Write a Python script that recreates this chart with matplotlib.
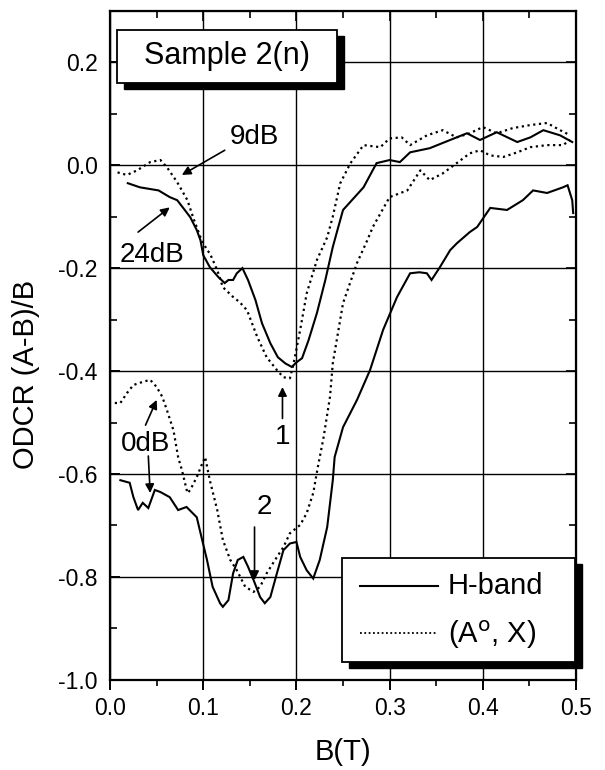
import numpy as np
import matplotlib
matplotlib.use("Agg")
import matplotlib.pyplot as plt
from matplotlib.patches import Rectangle
from matplotlib.lines import Line2D

plt.rcParams['font.family'] = ['Liberation Sans', 'DejaVu Sans']
plt.rcParams['axes.unicode_minus'] = False

# ---- data: ODCR signal vs magnetic field ----
# H-band, 24 dB attenuation
h24_x = [0.019, 0.032, 0.052, 0.064, 0.072, 0.078, 0.086, 0.093, 0.097, 0.100,
         0.107, 0.116, 0.123, 0.127, 0.132, 0.136, 0.142, 0.148, 0.156, 0.163,
         0.172, 0.180, 0.188, 0.195, 0.200, 0.206, 0.213, 0.222, 0.231, 0.239,
         0.244, 0.250, 0.272, 0.286, 0.300, 0.311, 0.322, 0.343, 0.365, 0.383,
         0.397, 0.415, 0.437, 0.451, 0.465, 0.483, 0.496]
h24_y = [-0.035, -0.043, -0.049, -0.062, -0.068, -0.082, -0.101, -0.126, -0.146, -0.175,
         -0.198, -0.217, -0.229, -0.223, -0.223, -0.210, -0.200, -0.223, -0.262, -0.307,
         -0.346, -0.373, -0.385, -0.392, -0.383, -0.375, -0.340, -0.287, -0.223, -0.159,
         -0.126, -0.087, -0.043, 0.004, 0.010, 0.006, 0.025, 0.033, 0.049, 0.062,
         0.049, 0.064, 0.045, 0.054, 0.068, 0.058, 0.045]

# (A0, X), 9 dB attenuation
a9_x = [0.008, 0.018, 0.029, 0.043, 0.054, 0.061, 0.072, 0.083, 0.089, 0.097,
        0.104, 0.107, 0.115, 0.121, 0.132, 0.139, 0.147, 0.158, 0.168, 0.179,
        0.186, 0.193, 0.197, 0.204, 0.211, 0.222, 0.233, 0.239, 0.247, 0.258,
        0.272, 0.290, 0.300, 0.313, 0.322, 0.340, 0.357, 0.372, 0.386, 0.400,
        0.415, 0.432, 0.451, 0.469, 0.483, 0.494]
a9_y = [-0.014, -0.019, -0.010, 0.006, 0.010, -0.004, -0.033, -0.068, -0.101, -0.140,
        -0.165, -0.171, -0.204, -0.237, -0.256, -0.266, -0.282, -0.334, -0.373, -0.398,
        -0.412, -0.414, -0.385, -0.320, -0.249, -0.184, -0.140, -0.100, -0.035, 0.004,
        0.039, 0.035, 0.052, 0.054, 0.039, 0.058, 0.068, 0.054, 0.062, 0.074,
        0.062, 0.072, 0.078, 0.082, 0.068, 0.058]

# H-band, 0 dB attenuation
h0_x = [0.011, 0.021, 0.025, 0.030, 0.035, 0.041, 0.048, 0.054, 0.064, 0.073,
        0.082, 0.093, 0.098, 0.104, 0.110, 0.118, 0.121, 0.127, 0.132, 0.137,
        0.143, 0.148, 0.154, 0.161, 0.166, 0.172, 0.179, 0.186, 0.193, 0.200,
        0.204, 0.211, 0.218, 0.225, 0.233, 0.239, 0.241, 0.250, 0.265, 0.279,
        0.293, 0.308, 0.322, 0.332, 0.340, 0.345, 0.354, 0.365, 0.372, 0.386,
        0.394, 0.408, 0.426, 0.443, 0.454, 0.469, 0.486, 0.491, 0.496, 0.497]
h0_y = [-0.612, -0.617, -0.645, -0.670, -0.656, -0.666, -0.631, -0.635, -0.645, -0.670,
        -0.664, -0.684, -0.722, -0.767, -0.819, -0.851, -0.858, -0.845, -0.793, -0.767,
        -0.761, -0.780, -0.806, -0.839, -0.851, -0.839, -0.793, -0.748, -0.735, -0.732,
        -0.761, -0.787, -0.803, -0.767, -0.703, -0.612, -0.567, -0.509, -0.456, -0.398,
        -0.320, -0.256, -0.210, -0.208, -0.210, -0.223, -0.198, -0.165, -0.152, -0.130,
        -0.120, -0.083, -0.087, -0.068, -0.049, -0.054, -0.043, -0.039, -0.068, -0.093]

# (A0, X), 0 dB attenuation
a0_x = [0.005, 0.011, 0.018, 0.025, 0.035, 0.043, 0.050, 0.056, 0.061, 0.068,
        0.073, 0.077, 0.083, 0.086, 0.093, 0.099, 0.102, 0.107, 0.115, 0.121,
        0.129, 0.136, 0.145, 0.154, 0.161, 0.168, 0.177, 0.186, 0.193, 0.204,
        0.211, 0.218, 0.223, 0.229, 0.236, 0.239, 0.250, 0.265, 0.276, 0.282,
        0.300, 0.319, 0.333, 0.343, 0.357, 0.372, 0.386, 0.397, 0.408, 0.422,
        0.437, 0.451, 0.469, 0.486, 0.494]
a0_y = [-0.462, -0.462, -0.443, -0.427, -0.421, -0.417, -0.431, -0.450, -0.476, -0.515,
        -0.567, -0.592, -0.637, -0.631, -0.606, -0.579, -0.567, -0.612, -0.670, -0.728,
        -0.767, -0.787, -0.819, -0.829, -0.819, -0.793, -0.767, -0.742, -0.715, -0.699,
        -0.676, -0.637, -0.586, -0.530, -0.450, -0.385, -0.268, -0.190, -0.146, -0.120,
        -0.062, -0.049, -0.010, -0.029, -0.016, 0.004, 0.023, 0.029, 0.019, 0.016,
        0.025, 0.035, 0.039, 0.039, 0.049]

x_ticks = [0.0, 0.1, 0.2, 0.3, 0.4, 0.5]
y_ticks = [-1.0, -0.8, -0.6, -0.4, -0.2, 0.0, 0.2]

legend_labels = ["H-band", "(A$^{\\rm o}$, X)"]

fig = plt.figure(figsize=(6.05, 7.7), dpi=100)
ax = fig.add_axes([0.182, 0.117, 0.770, 0.869])

solid = dict(color='black', lw=1.5, solid_joinstyle='miter')
dotted = dict(color='black', lw=1.6, linestyle=(0, (1, 1.6)))

ax.plot(h24_x, h24_y, **solid, zorder=3)
ax.plot(h0_x, h0_y, **solid, zorder=3)
ax.plot(a9_x, a9_y, **dotted, zorder=3)
ax.plot(a0_x, a0_y, **dotted, zorder=3)

ax.set_xlim(0.0, 0.5)
ax.set_ylim(-1.0, 0.3)
ax.set_xticks(x_ticks)
ax.set_xticklabels([f"{v:.1f}" for v in x_ticks])
ax.set_yticks(y_ticks)
ax.set_yticklabels([f"{v:.1f}" for v in y_ticks])
ax.set_xticks(np.arange(0.05, 0.5, 0.1), minor=True)
ax.set_yticks(np.arange(-0.9, 0.3, 0.2), minor=True)

ax.grid(True, which='major', color='black', lw=1.0)
ax.set_axisbelow(True)
for s in ax.spines.values():
    s.set_linewidth(1.6)

ax.tick_params(axis='x', which='major', direction='out', length=7, width=1.4,
               labelsize=16.5, pad=5)
ax.tick_params(axis='x', which='minor', direction='out', length=4, width=1.2)
ax.tick_params(axis='y', which='major', direction='in', length=7, width=1.4,
               labelsize=16.5, pad=9)
ax.tick_params(axis='y', which='minor', direction='in', length=5, width=1.2)

# inward ticks on top and right edges
top = ax.secondary_xaxis('top')
top.set_xticks(x_ticks)
top.set_xticks(np.arange(0.05, 0.5, 0.1), minor=True)
top.tick_params(which='both', direction='in', labeltop=False, width=1.2)
top.tick_params(which='major', length=7)
top.tick_params(which='minor', length=5)
right = ax.secondary_yaxis('right')
right.set_yticks(y_ticks)
right.set_yticks(np.arange(-0.9, 0.3, 0.2), minor=True)
right.tick_params(which='both', direction='in', labelright=False, width=1.2)
right.tick_params(which='major', length=7)
right.tick_params(which='minor', length=5)

ax.set_xlabel("B(T)", fontsize=21, labelpad=13)
ax.set_ylabel("ODCR (A-B)/B", fontsize=21)
ax.yaxis.set_label_coords(-0.150, 0.456)

# title box with drop shadow
def shadow_box(x0, y0, w, h, dx=0.015, dy=0.009):
    ax.add_patch(Rectangle((x0 + dx, y0 - dy), w, h, transform=ax.transAxes,
                           facecolor='black', edgecolor='black', zorder=6,
                           clip_on=False))
    ax.add_patch(Rectangle((x0, y0), w, h, transform=ax.transAxes,
                           facecolor='white', edgecolor='black', lw=1.3,
                           zorder=7, clip_on=False))

shadow_box(0.015, 0.892, 0.472, 0.079)
ax.text(0.251, 0.933, "Sample 2(n)", transform=ax.transAxes, fontsize=22,
        ha='center', va='center', zorder=8)

# legend box
shadow_box(0.498, 0.027, 0.500, 0.155)
ax.add_line(Line2D([0.536, 0.704], [0.140, 0.140], transform=ax.transAxes,
                   **solid, zorder=8))
ax.add_line(Line2D([0.536, 0.704], [0.070, 0.070], transform=ax.transAxes,
                   color='black', lw=1.3, linestyle=(0, (1, 1.4)), zorder=8))
ax.text(0.725, 0.140, legend_labels[0], transform=ax.transAxes, fontsize=21,
        ha='left', va='center', zorder=8)
ax.text(0.725, 0.068, legend_labels[1], transform=ax.transAxes, fontsize=21,
        ha='left', va='center', zorder=8)

# annotations
arrow = dict(arrowstyle='-|>', color='black', lw=1.2, mutation_scale=13,
             shrinkA=0, shrinkB=0)
ax.text(0.155, 0.054, "9dB", fontsize=20, ha='center', va='center')
ax.annotate("", xy=(0.077, -0.019), xytext=(0.123, 0.029), arrowprops=arrow)
ax.text(0.045, -0.175, "24dB", fontsize=20, ha='center', va='center')
ax.annotate("", xy=(0.064, -0.082), xytext=(0.030, -0.130), arrowprops=arrow)
ax.text(0.185, -0.528, "1", fontsize=20, ha='center', va='center')
ax.annotate("", xy=(0.185, -0.431), xytext=(0.185, -0.492), arrowprops=arrow)
ax.text(0.038, -0.542, "0dB", fontsize=20, ha='center', va='center')
ax.annotate("", xy=(0.050, -0.456), xytext=(0.038, -0.505), arrowprops=arrow)
ax.annotate("", xy=(0.043, -0.637), xytext=(0.041, -0.565), arrowprops=arrow)
ax.text(0.166, -0.664, "2", fontsize=20, ha='center', va='center')
ax.annotate("", xy=(0.155, -0.806), xytext=(0.155, -0.703), arrowprops=arrow)

fig.savefig("out.png", dpi=100)
